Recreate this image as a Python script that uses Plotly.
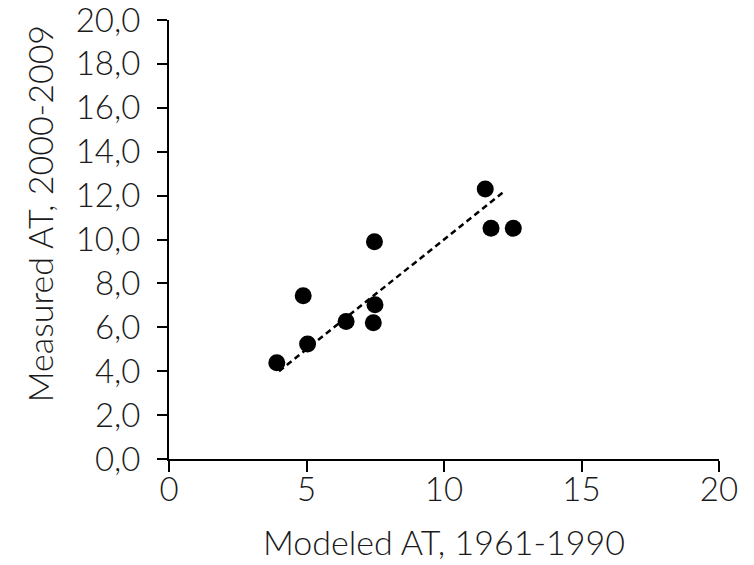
import plotly.graph_objects as go

# Data
modeled_at = [3.92, 4.88, 5.04, 6.44, 7.43, 7.49, 7.47, 11.50, 11.71, 12.52]
measured_at = [4.39, 7.44, 5.24, 6.26, 6.21, 7.03, 9.90, 12.30, 10.51, 10.51]
line_x = [4.0, 12.2]
line_y = [4.0, 12.2]

x_title = "Modeled AT, 1961-1990"
y_title = "Measured AT, 2000-2009"
y_tickvals = [0, 2, 4, 6, 8, 10, 12, 14, 16, 18, 20]
y_ticktext = [("%.1f" % v).replace(".", ",") for v in y_tickvals]
x_tickvals = [0, 5, 10, 15, 20]

FONT = "Lato"
TXT = "#1a1a1a"

fig = go.Figure()
fig.add_trace(go.Scatter(
    x=line_x, y=line_y, mode="lines",
    line=dict(color="black", width=2.5, dash="6px,4px"),
    hoverinfo="skip", showlegend=False,
))
fig.add_trace(go.Scatter(
    x=modeled_at, y=measured_at, mode="markers",
    marker=dict(color="black", size=17, line=dict(width=0)),
    showlegend=False,
))

fig.update_layout(
    width=754, height=565,
    margin=dict(l=169, r=35, t=20, b=106),
    paper_bgcolor="white", plot_bgcolor="white",
    font=dict(family=FONT, color=TXT, size=26),
    xaxis=dict(
        range=[0, 20], tickvals=x_tickvals, showgrid=False, zeroline=False,
        showline=True, linecolor="black", linewidth=2, automargin=False,
        ticks="outside", ticklen=11, tickwidth=2, tickcolor="black",
        ticklabelstandoff=-11, ticklabeloverflow="allow",
        tickfont=dict(size=33, color=TXT, family=FONT, weight=300),
    ),
    yaxis=dict(
        range=[0, 20], tickvals=y_tickvals, ticktext=y_ticktext,
        showgrid=False, zeroline=False, automargin=False,
        showline=True, linecolor="black", linewidth=2,
        ticks="outside", ticklen=10, tickwidth=2, tickcolor="black",
        ticklabelstandoff=10, ticklabeloverflow="allow",
        tickfont=dict(size=33, color=TXT, family=FONT, weight=300),
    ),
    annotations=[
        dict(text=x_title, xref="paper", yref="paper", x=0.5, y=-0.187,
             xanchor="center", yanchor="middle", showarrow=False,
             font=dict(size=34, color=TXT, family=FONT, weight=300)),
        dict(text=y_title, xref="paper", yref="paper", x=-0.236, y=0.558,
             xanchor="center", yanchor="middle", showarrow=False, textangle=-90,
             font=dict(size=34, color=TXT, family=FONT, weight=300)),
    ],
)

fig.write_html("out.html")
